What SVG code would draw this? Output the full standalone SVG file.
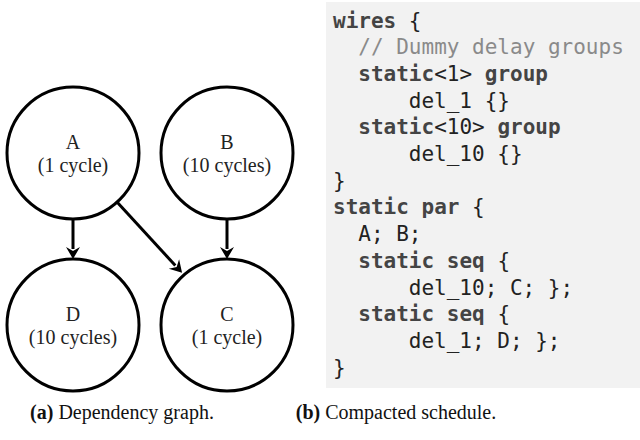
<svg xmlns="http://www.w3.org/2000/svg" width="640" height="440" viewBox="0 0 640 440">
<style>
.node circle{fill:#fff;stroke:#000;stroke-width:3}
.lbl{font-family:"Liberation Serif","Times New Roman",serif;font-size:20px;fill:#222;text-anchor:middle}
.edge{stroke:#000;stroke-width:3;fill:none;marker-end:url(#arr)}
.code{font-family:"DejaVu Sans Mono",monospace;font-size:21px;fill:#222}
.k{font-weight:bold;fill:#444}
.c{fill:#8a8a8a}
.cap{font-family:"Liberation Serif","Times New Roman",serif;font-size:20px;fill:#111;text-anchor:middle}
</style>
<defs>
<marker id="arr" markerUnits="userSpaceOnUse" markerWidth="20" markerHeight="20" viewBox="-2 -10 20 20" refX="0" refY="0" orient="auto">
<path d="M10,0 L-2,-7 L2,0 L-2,7 Z" fill="#000"/>
</marker>
</defs>
<rect x="326" y="2" width="314" height="386" fill="#f2f2f2"/>
<g id="edges">
<line class="edge" x1="73" y1="219" x2="73" y2="249"/>
<line class="edge" x1="227" y1="219" x2="227" y2="249"/>
<line class="edge" x1="117" y1="202" x2="175.3" y2="265.5"/>
</g>
<g id="A" class="node"><circle cx="73" cy="153" r="66"/><text class="lbl" x="73" y="149">A</text><text class="lbl" x="73" y="172">(1 cycle)</text></g>
<g id="B" class="node"><circle cx="227" cy="153" r="66"/><text class="lbl" x="227" y="149">B</text><text class="lbl" x="227" y="172">(10 cycles)</text></g>
<g id="D" class="node"><circle cx="73" cy="325" r="66"/><text class="lbl" x="73" y="321">D</text><text class="lbl" x="73" y="344">(10 cycles)</text></g>
<g id="C" class="node"><circle cx="227" cy="325" r="66"/><text class="lbl" x="227" y="321">C</text><text class="lbl" x="227" y="344">(1 cycle)</text></g>
<g id="code" class="code">
<text x="333" y="27.5"><tspan class="k">wires</tspan> {</text>
<text x="358.3" y="54.2" class="c">// Dummy delay groups</text>
<text x="358.3" y="80.9"><tspan class="k">static</tspan>&lt;1&gt; <tspan class="k">group</tspan></text>
<text x="408.8" y="107.6">del_1 {}</text>
<text x="358.3" y="134.3"><tspan class="k">static</tspan>&lt;10&gt; <tspan class="k">group</tspan></text>
<text x="408.8" y="161">del_10 {}</text>
<text x="333" y="187.7">}</text>
<text x="333" y="214.4"><tspan class="k">static par</tspan> {</text>
<text x="358.3" y="241.1">A; B;</text>
<text x="358.3" y="267.8"><tspan class="k">static seq</tspan> {</text>
<text x="408.8" y="294.5">del_10; C; };</text>
<text x="358.3" y="321.2"><tspan class="k">static seq</tspan> {</text>
<text x="408.8" y="347.9">del_1; D; };</text>
<text x="333" y="374.6">}</text>
</g>
<text class="cap" x="122" y="419"><tspan font-weight="bold">(a)</tspan> Dependency graph.</text>
<text class="cap" x="396" y="419"><tspan font-weight="bold">(b)</tspan> Compacted schedule.</text>
</svg>
